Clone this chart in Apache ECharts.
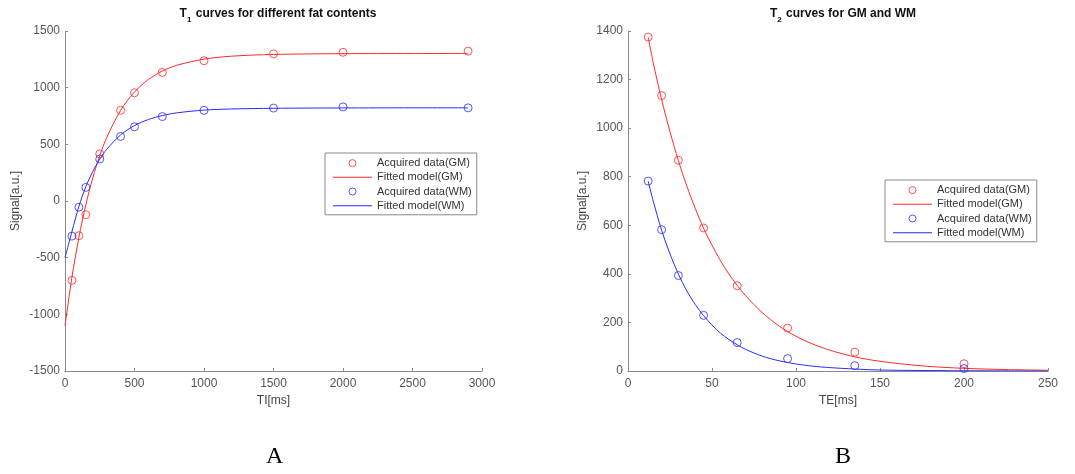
<!DOCTYPE html>
<html>
<head>
<meta charset="utf-8">
<script src="https://cdn.jsdelivr.net/npm/echarts@6/dist/echarts.min.js"></script>
<style>
  html, body { margin: 0; padding: 0; background: #fff; }
  #main { width: 1075px; height: 474px; }
</style>
</head>
<body>
<div id="main"></div>
<script>
// T1 panel: acquired points
var tiPoints = [50, 100, 150, 250, 400, 500, 700, 1000, 1500, 2000, 2900];
var t1Gm = [-700, -306, -121, 415, 800, 955, 1135, 1238, 1298, 1312, 1322];
var t1Wm = [-310, -55, 120, 370, 570, 655, 745, 800, 820, 830, 822];
// T1 panel: fitted curves
var tiFit = [0, 50, 100, 150, 200, 250, 300, 400, 500, 600, 700, 800, 1000, 1200, 1500, 2000, 2500, 2900];
var t1GmFit = [-1100, -672, -321, -32, 205, 399, 560, 800, 962, 1072, 1146, 1196, 1252, 1278, 1293, 1300, 1301, 1302];
var t1WmFit = [-500, -270, -48, 127, 260, 370, 456, 583, 666, 719, 754, 777, 802, 812, 818, 821, 822, 822];

// T2 panel: acquired points
var tePoints = [12, 20, 30, 45, 65, 95, 135, 200];
var t2Gm = [1375, 1134, 868, 589, 351, 177, 78, 30];
var t2Wm = [782, 582, 393, 229, 117, 51, 22, 10];
// T2 panel: fitted curves
var teFit = [12, 15, 20, 25, 30, 35, 40, 45, 50, 55, 60, 65, 70, 80, 90, 100, 110, 120, 135, 150, 175, 200, 225, 250];
var t2GmFit = [1375, 1270, 1118, 985, 866, 762, 670, 588, 518, 455, 400, 352, 310, 240, 185, 143, 111, 86, 58, 40, 21, 11, 6, 3];
var t2WmFit = [782, 700, 580, 482, 399, 330, 274, 228, 189, 156, 130, 108, 89, 61, 42, 29, 20, 14, 8, 4, 2, 1, 0.5, 0];

var xTicksT1 = [0, 3000, 500];
var yTicksT1 = [-1500, 1500, 500];
var xTicksT2 = [0, 250, 50];
var yTicksT2 = [0, 1400, 200];

var RED = '#ff2a2a';
var BLUE = '#2a2aff';
var names = ['Acquired data(GM)', 'Fitted model(GM)', 'Acquired data(WM)', 'Fitted model(WM)'];
var lineIcon = 'path://M0,0L39,0L39,1L0,1Z';

function zip(xs, ys) {
  return xs.map(function (x, i) { return [x, ys[i]]; });
}

var axisCommon = {
  axisLine: { show: true, onZero: false, lineStyle: { color: '#8a8a8a', width: 1 } },
  axisTick: { show: true, inside: true, length: 3, lineStyle: { color: '#8a8a8a' } },
  axisLabel: { color: '#555', fontSize: 12, fontFamily: 'Liberation Sans, Arial', formatter: function (v) { return String(v); } },
  splitLine: { show: false },
  nameTextStyle: { color: '#444', fontSize: 12, fontFamily: 'Liberation Sans, Arial' }
};

function xAxis(idx, ticks, name) {
  return Object.assign({}, axisCommon, {
    type: 'value', gridIndex: idx, min: ticks[0], max: ticks[1], interval: ticks[2],
    name: name, nameLocation: 'middle', nameGap: 24,
    axisLabel: Object.assign({}, axisCommon.axisLabel, { margin: 7 })
  });
}
function yAxis(idx, ticks, gap) {
  return Object.assign({}, axisCommon, {
    type: 'value', gridIndex: idx, min: ticks[0], max: ticks[1], interval: ticks[2],
    name: 'Signal[a.u.]', nameLocation: 'middle', nameGap: gap,
    axisLabel: Object.assign({}, axisCommon.axisLabel, { margin: 5 })
  });
}

function scatter(name, idx, data, color) {
  return {
    name: name, type: 'scatter', xAxisIndex: idx, yAxisIndex: idx,
    data: data, symbol: 'circle', symbolSize: 8,
    itemStyle: { color: 'rgba(255,255,255,0)', borderColor: color, borderWidth: 1 },
    z: 3
  };
}
function fit(name, idx, data, color) {
  return {
    name: name, type: 'line', xAxisIndex: idx, yAxisIndex: idx,
    data: data, smooth: 0.3, symbol: 'none',
    lineStyle: { color: color, width: 1 }, itemStyle: { color: color },
    z: 2
  };
}

function legend(left, top) {
  return {
    data: [
      { name: names[0], icon: 'circle', itemStyle: { color: 'rgba(255,255,255,0)', borderColor: RED, borderWidth: 1 } },
      { name: names[1], icon: lineIcon, itemStyle: { color: RED, borderWidth: 0 } },
      { name: names[2], icon: 'circle', itemStyle: { color: 'rgba(255,255,255,0)', borderColor: BLUE, borderWidth: 1 } },
      { name: names[3], icon: lineIcon, itemStyle: { color: BLUE, borderWidth: 0 } }
    ],
    orient: 'vertical', left: left, top: top,
    itemWidth: 39, itemHeight: 7, itemGap: 0,
    padding: [3, 5, 2, 8],
    borderColor: '#8a8a8a', borderWidth: 1,
    selectedMode: false,
    textStyle: { color: '#333', fontSize: 11, fontFamily: 'Liberation Sans, Arial', lineHeight: 14.2 }
  };
}

function title(text, sub, rest, left) {
  return {
    text: '{b|' + text + '}{s|' + sub + '}{b|' + rest + '}',
    left: left, top: 3, textAlign: 'center',
    textStyle: {
      rich: {
        b: { fontSize: 12, fontWeight: 'bold', color: '#111', fontFamily: 'Liberation Sans, Arial', lineHeight: 16, verticalAlign: 'top' },
        s: { fontSize: 8, fontWeight: 'bold', color: '#111', fontFamily: 'Liberation Sans, Arial', lineHeight: 16, verticalAlign: 'bottom', padding: [0, 1, 0, 0] }
      }
    }
  };
}

var chart = echarts.init(document.getElementById('main'));
chart.setOption({
  backgroundColor: '#fff',
  animation: false,
  title: [
    title('T', '1', ' curves for different fat contents', 273),
    title('T', '2', ' curves for GM and WM', 838)
  ],
  legend: [legend(325, 153), legend(885, 180)],
  grid: [
    { left: 65, top: 31, width: 417, height: 340 },
    { left: 628, top: 31, width: 420, height: 340 }
  ],
  xAxis: [xAxis(0, xTicksT1, 'TI[ms]'), xAxis(1, xTicksT2, 'TE[ms]')],
  yAxis: [yAxis(0, yTicksT1, 43), yAxis(1, yTicksT2, 39)],
  series: [
    scatter(names[0], 0, zip(tiPoints, t1Gm), RED),
    fit(names[1], 0, zip(tiFit, t1GmFit), RED),
    scatter(names[2], 0, zip(tiPoints, t1Wm), BLUE),
    fit(names[3], 0, zip(tiFit, t1WmFit), BLUE),
    scatter(names[0], 1, zip(tePoints, t2Gm), RED),
    fit(names[1], 1, zip(teFit, t2GmFit), RED),
    scatter(names[2], 1, zip(tePoints, t2Wm), BLUE),
    fit(names[3], 1, zip(teFit, t2WmFit), BLUE)
  ],
  graphic: [
    { type: 'text', left: 266, top: 445, style: { text: 'A', fontSize: 24, fontFamily: 'Liberation Serif, Times New Roman', fill: '#000' } },
    { type: 'text', left: 835, top: 445, style: { text: 'B', fontSize: 24, fontFamily: 'Liberation Serif, Times New Roman', fill: '#000' } }
  ]
});

window.onresize = function () { chart.resize(); };
</script>
</body>
</html>
